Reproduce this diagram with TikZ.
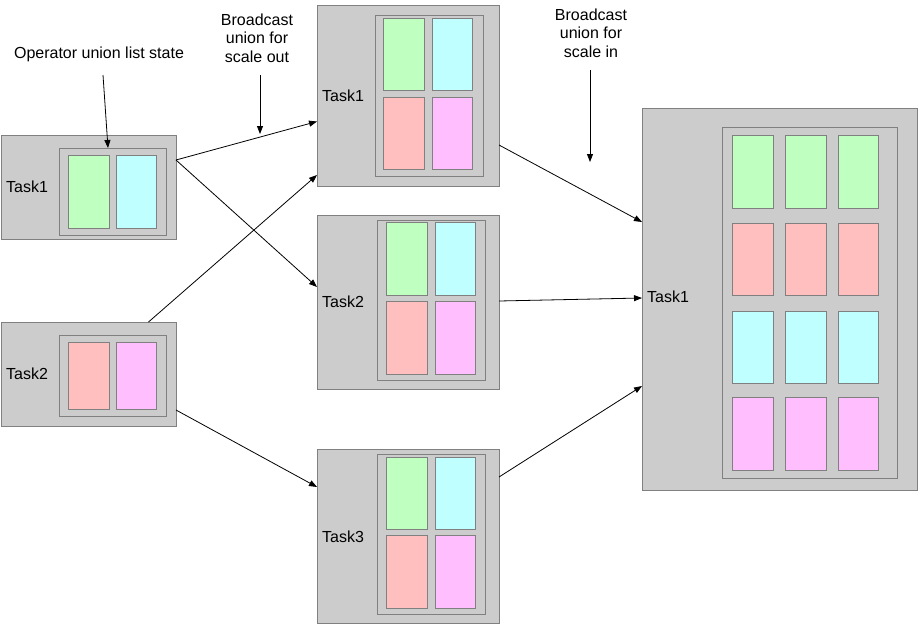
\documentclass[tikz,border=0pt]{standalone}
\usepackage{fontspec}
\setmainfont{Liberation Sans}
\usetikzlibrary{arrows.meta}
\definecolor{boxgray}{HTML}{CCCCCC}
\definecolor{edgegray}{HTML}{808080}
\definecolor{cgreen}{HTML}{BFFFBF}
\definecolor{ccyan}{HTML}{BFFFFF}
\definecolor{cred}{HTML}{FFBFBF}
\definecolor{cpink}{HTML}{FFBFFF}
\newcommand\mybox[6]{\node[#2, minimum width={#5-#3}, minimum height={#6-#4}, anchor=north west] (#1) at (#3,#4) {};}
\begin{document}
\begin{tikzpicture}[x=1pt,y=-1pt,
  outerbox/.style={draw=edgegray, fill=boxgray, line width=0.9pt, inner sep=0pt, outer sep=0pt},
  innerbox/.style={draw=edgegray, fill=boxgray, line width=0.9pt, inner sep=0pt, outer sep=0pt},
  gcell/.style={draw=edgegray, fill=cgreen, line width=0.9pt, inner sep=0pt, outer sep=0pt},
  ccell/.style={draw=edgegray, fill=ccyan, line width=0.9pt, inner sep=0pt, outer sep=0pt},
  rcell/.style={draw=edgegray, fill=cred, line width=0.9pt, inner sep=0pt, outer sep=0pt},
  pcell/.style={draw=edgegray, fill=cpink, line width=0.9pt, inner sep=0pt, outer sep=0pt},
  tasklabel/.style={anchor=west, inner sep=0pt, font=\fontsize{16}{19}\selectfont},
  note/.style={align=center, inner sep=0pt, font=\fontsize{16}{18.5}\selectfont},
  arr/.style={-{Triangle[length=8pt,width=6pt]}, line width=0.8pt, black}]
\useasboundingbox (0,0) rectangle (918,624);
% left Task1
\mybox{lt1}{outerbox}{1}{135}{176}{239}
\mybox{lt1i}{innerbox}{59}{148}{166}{235}
\mybox{lt1a}{gcell}{68}{155}{109}{228}
\mybox{lt1b}{ccell}{116}{155}{156}{228}
\node[tasklabel] (lt1t) at (6,187) {Task1};
% left Task2
\mybox{lt2}{outerbox}{1}{322}{176}{426}
\mybox{lt2i}{innerbox}{59}{335}{166}{416}
\mybox{lt2a}{rcell}{68}{342}{109}{409}
\mybox{lt2b}{pcell}{116}{342}{156}{409}
\node[tasklabel] (lt2t) at (6,374) {Task2};
% middle Task1
\mybox{mt1}{outerbox}{317}{5}{499}{186}
\mybox{mt1i}{innerbox}{375}{15}{483}{176}
\mybox{mt1a}{gcell}{383}{18}{424}{90}
\mybox{mt1b}{ccell}{432}{18}{472}{90}
\mybox{mt1c}{rcell}{383}{97}{424}{169}
\mybox{mt1d}{pcell}{432}{97}{472}{169}
\node[tasklabel] (mt1t) at (322,96) {Task1};
% middle Task2
\mybox{mt2}{outerbox}{317}{215}{499}{389}
\mybox{mt2i}{innerbox}{377}{220}{485}{380}
\mybox{mt2a}{gcell}{386}{222}{427}{295}
\mybox{mt2b}{ccell}{435}{222}{475}{295}
\mybox{mt2c}{rcell}{386}{301}{427}{374}
\mybox{mt2d}{pcell}{435}{301}{475}{374}
\node[tasklabel] (mt2t) at (322,302) {Task2};
% middle Task3
\mybox{mt3}{outerbox}{317}{449}{499}{623}
\mybox{mt3i}{innerbox}{377}{454}{485}{614}
\mybox{mt3a}{gcell}{386}{457}{427}{529}
\mybox{mt3b}{ccell}{435}{457}{475}{529}
\mybox{mt3c}{rcell}{386}{535}{427}{608}
\mybox{mt3d}{pcell}{435}{535}{475}{608}
\node[tasklabel] (mt3t) at (322,537) {Task3};
% right Task1
\mybox{rt}{outerbox}{642}{108}{917}{490}
\mybox{rti}{innerbox}{722}{127}{897}{478}
\mybox{r11}{gcell}{732}{135}{773}{208}
\mybox{r12}{gcell}{785}{135}{826}{208}
\mybox{r13}{gcell}{838}{135}{878}{208}
\mybox{r21}{rcell}{732}{223}{773}{295}
\mybox{r22}{rcell}{785}{223}{826}{295}
\mybox{r23}{rcell}{838}{223}{878}{295}
\mybox{r31}{ccell}{732}{311}{773}{383}
\mybox{r32}{ccell}{785}{311}{826}{383}
\mybox{r33}{ccell}{838}{311}{878}{383}
\mybox{r41}{pcell}{732}{397}{773}{470}
\mybox{r42}{pcell}{785}{397}{826}{470}
\mybox{r43}{pcell}{838}{397}{878}{470}
\node[tasklabel] (rtt) at (647,297) {Task1};
% notes
\node[note] (n1) at (99,54) {Operator union list state};
\node[note] (n2) at (257,38) {Broadcast\\union for\\scale out};
\node[note] (n3) at (591,33) {Broadcast\\union for\\scale in};
\coordinate (n1start) at (103,75);
\coordinate (n2start) at (260,75);
\coordinate (n3start) at (590,70);
\coordinate (n2end) at (260,134);
\coordinate (n3end) at (590,162);
% connectors
\draw[arr] (n1start) -- ([xshift=-4.5pt]lt1i.north);
\draw[arr] (n2start) -- (n2end);
\draw[arr] (n3start) -- (n3end);
\draw[arr] ([yshift=27pt]lt1.east) -- ([yshift=-26pt]mt1.west);
\draw[arr] ([yshift=27pt]lt1.east) -- ([yshift=15pt]mt2.west);
\draw[arr] ([xshift=60pt]lt2.north) -- ([yshift=-79.5pt]mt1.west);
\draw[arr] ([yshift=-36pt]lt2.east) -- ([yshift=49pt]mt3.west);
\draw[arr] ([yshift=-49.5pt]mt1.east) -- ([yshift=77pt]rt.west);
\draw[arr] ([yshift=1pt]mt2.east) -- ([yshift=1pt]rt.west);
\draw[arr] ([yshift=59pt]mt3.east) -- ([yshift=-87pt]rt.west);
\end{tikzpicture}
\end{document}
